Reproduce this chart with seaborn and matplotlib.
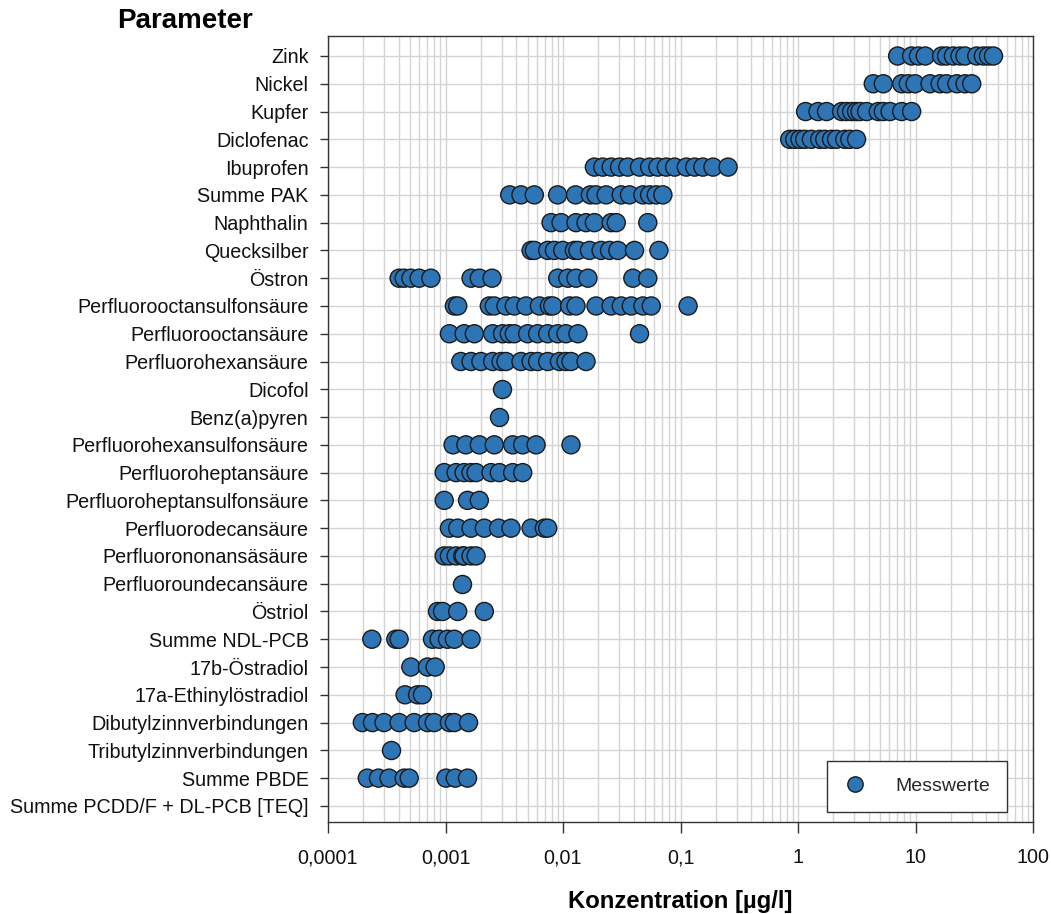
import numpy as np
import pandas as pd
import matplotlib
matplotlib.use("Agg")
import matplotlib.pyplot as plt
import seaborn as sns
from matplotlib.ticker import FixedLocator, LogLocator, NullFormatter

# ---------------- data ----------------
parameters = [
    "Zink", "Nickel", "Kupfer", "Diclofenac", "Ibuprofen", "Summe PAK",
    "Naphthalin", "Quecksilber", "Östron", "Perfluorooctansulfonsäure",
    "Perfluorooctansäure", "Perfluorohexansäure", "Dicofol", "Benz(a)pyren",
    "Perfluorohexansulfonsäure", "Perfluoroheptansäure",
    "Perfluoroheptansulfonsäure", "Perfluorodecansäure",
    "Perfluorononansäsäure", "Perfluoroundecansäure", "Östriol",
    "Summe NDL-PCB", "17b-Östradiol", "17a-Ethinylöstradiol",
    "Dibutylzinnverbindungen", "Tributylzinnverbindungen", "Summe PBDE",
    "Summe PCDD/F + DL-PCB [TEQ]",
]

zink = [7.05, 9.27, 10.6, 12.1, 16.7, 18.4, 21.0, 23.9, 26.4, 33.2, 37.8, 41.8, 46.1]
nickel = [4.37, 5.32, 7.63, 8.69, 9.91, 13.3, 16.2, 18.4, 22.5, 26.4, 30.1]
kupfer = [1.16, 1.48, 1.75, 2.35, 2.59, 2.86, 3.15, 3.37, 3.84, 4.82, 5.32, 6.07, 7.63, 9.27]
diclofenac = [0.851, 0.939, 1.04, 1.14, 1.30, 1.53, 1.69, 1.93, 2.13, 2.50, 2.76, 3.15]
ibuprofen = [0.0185, 0.0218, 0.0257, 0.0303, 0.0356, 0.0448, 0.0546, 0.0642,
             0.0757, 0.0891, 0.112, 0.132, 0.155, 0.189, 0.254]
summe_pak = [0.00352, 0.00439, 0.0057, 0.0090, 0.0128, 0.0171, 0.0191, 0.0233,
             0.0313, 0.0368, 0.0479, 0.0546, 0.0622, 0.0708]
naphthalin = [0.00791, 0.00963, 0.0129, 0.0157, 0.0185, 0.0257, 0.0284, 0.0527]
quecksilber = [0.00535, 0.0057, 0.00741, 0.00845, 0.00995, 0.0125, 0.0134,
               0.0168, 0.0211, 0.0249, 0.0293, 0.0406, 0.0655]
oestron = [0.000403, 0.000445, 0.000507, 0.000597, 0.000751, 0.00165, 0.00194,
           0.00249, 0.00902, 0.0110, 0.0129, 0.0163, 0.0393, 0.0527]
pfos = [0.00119, 0.00127, 0.00236, 0.0026, 0.00327, 0.00385, 0.00484, 0.0063,
        0.00766, 0.00818, 0.0114, 0.0129, 0.0191, 0.0257, 0.0313, 0.0381,
        0.0479, 0.0564, 0.116]
pfoa = [0.00108, 0.00144, 0.00176, 0.00252, 0.00306, 0.00349, 0.00385, 0.0050,
        0.00608, 0.00741, 0.00902, 0.0106, 0.0134, 0.0448]
pfhxa = [0.00135, 0.00165, 0.0020, 0.00252, 0.00297, 0.00327, 0.00439, 0.00535,
         0.00608, 0.00741, 0.00932, 0.0106, 0.0117, 0.0157]
dicofol = [0.00303]
benzapyren = [0.00283]
pfhxs = [0.00116, 0.00149, 0.00194, 0.0026, 0.00373, 0.00454, 0.0059, 0.0117]
pfhpa = [0.000975, 0.00123, 0.00144, 0.00165, 0.00182, 0.00244, 0.00287, 0.00373, 0.00454]
pfhps = [0.000975, 0.00154, 0.00194]
pfda = [0.00108, 0.00127, 0.00165, 0.00214, 0.00283, 0.00361, 0.00535, 0.00694, 0.00741]
pfna = [0.000975, 0.00108, 0.00123, 0.0014, 0.00144, 0.00165, 0.00182]
pfunda = [0.00137]
oestriol = [0.000855, 0.000944, 0.00127, 0.00214]
summe_ndl_pcb = [0.000236, 0.000378, 0.000403, 0.000775, 0.000883, 0.00104, 0.00119, 0.00165]
oestradiol_17b = [0.000507, 0.000703, 0.000817]
ethinyl_17a = [0.000453, 0.000578, 0.000637]
dibutylzinn = [0.000196, 0.000239, 0.0003, 0.000403, 0.000541, 0.000703,
               0.000801, 0.00108, 0.00119, 0.00157]
tributylzinn = [0.000342]
summe_pbde = [0.000216, 0.000269, 0.000331, 0.000445, 0.000491, 0.00101, 0.00121, 0.00154]
summe_pcdd = []

series_values = [
    zink, nickel, kupfer, diclofenac, ibuprofen, summe_pak, naphthalin,
    quecksilber, oestron, pfos, pfoa, pfhxa, dicofol, benzapyren, pfhxs,
    pfhpa, pfhps, pfda, pfna, pfunda, oestriol, summe_ndl_pcb,
    oestradiol_17b, ethinyl_17a, dibutylzinn, tributylzinn, summe_pbde,
    summe_pcdd,
]

x_ticks = [0.0001, 0.001, 0.01, 0.1, 1, 10, 100]
x_ticklabels = ["0,0001", "0,001", "0,01", "0,1", "1", "10", "100"]
legend_label = "Messwerte"

rows = []
for p, vals in zip(parameters, series_values):
    for v in vals:
        rows.append({"Parameter": p, "Wert": v, "Serie": legend_label})
df = pd.DataFrame(rows)

# ---------------- style ----------------
sns.set_style("white")
plt.rcParams["font.family"] = ["Liberation Sans", "DejaVu Sans"]

W, H = 1051, 914
fig = plt.figure(figsize=(W / 100, H / 100), dpi=100)
ax = fig.add_axes([328 / W, 1 - 822 / H, (1033 - 328) / W, (822 - 36) / H])

marker_color = "#2E75B6"
sns.stripplot(
    data=df, x="Wert", y="Parameter", order=parameters, hue="Serie",
    palette={legend_label: marker_color}, jitter=False, size=13,
    linewidth=1, edgecolor="#1a1a1a", log_scale=True, ax=ax, zorder=3,
)

ax.set_xlim(1e-4, 100)
ax.set_ylim(len(parameters) - 1 + 0.58, -0.72)

ax.xaxis.set_major_locator(FixedLocator(x_ticks))
ax.set_xticklabels(x_ticklabels)
ax.xaxis.set_minor_locator(LogLocator(base=10, subs=np.arange(2, 10)))
ax.xaxis.set_minor_formatter(NullFormatter())

ax.grid(True, which="both", axis="x", color="#d4d4d4", lw=1)
ax.grid(True, which="major", axis="y", color="#d4d4d4", lw=1)
ax.set_axisbelow(True)

for s in ax.spines.values():
    s.set_visible(True)
    s.set_color("#333333")
    s.set_linewidth(1.0)

ax.tick_params(axis="x", which="major", direction="out", length=8, width=1,
               color="#333333", labelsize=14.2, pad=11, labelcolor="#111111")
ax.tick_params(axis="x", which="minor", length=0)
ax.tick_params(axis="y", which="major", direction="out", length=6, width=1,
               color="#333333", labelsize=14.2, pad=8, labelcolor="#111111")
ax.tick_params(left=True, bottom=True)

ax.set_ylabel("")
ax.set_xlabel("Konzentration [µg/l]", fontsize=17.2, fontweight="bold",
              labelpad=16, color="black")
fig.text(117 / W, 1 - 21 / H, "Parameter", fontsize=20, fontweight="bold",
         ha="left", va="center", color="black")

handles, labels = ax.get_legend_handles_labels()
leg = ax.legend(handles, labels, loc="lower right", bbox_to_anchor=(0.963, 0.013),
                frameon=True, fancybox=False, edgecolor="#333333", fontsize=14,
                borderpad=0.85, handletextpad=1.5, handlelength=1.2,
                markerscale=0.85, borderaxespad=0)
leg.get_frame().set_linewidth(1.0)
leg.get_frame().set_facecolor("white")
leg.get_frame().set_alpha(1)

fig.savefig("out.png", dpi=100)
